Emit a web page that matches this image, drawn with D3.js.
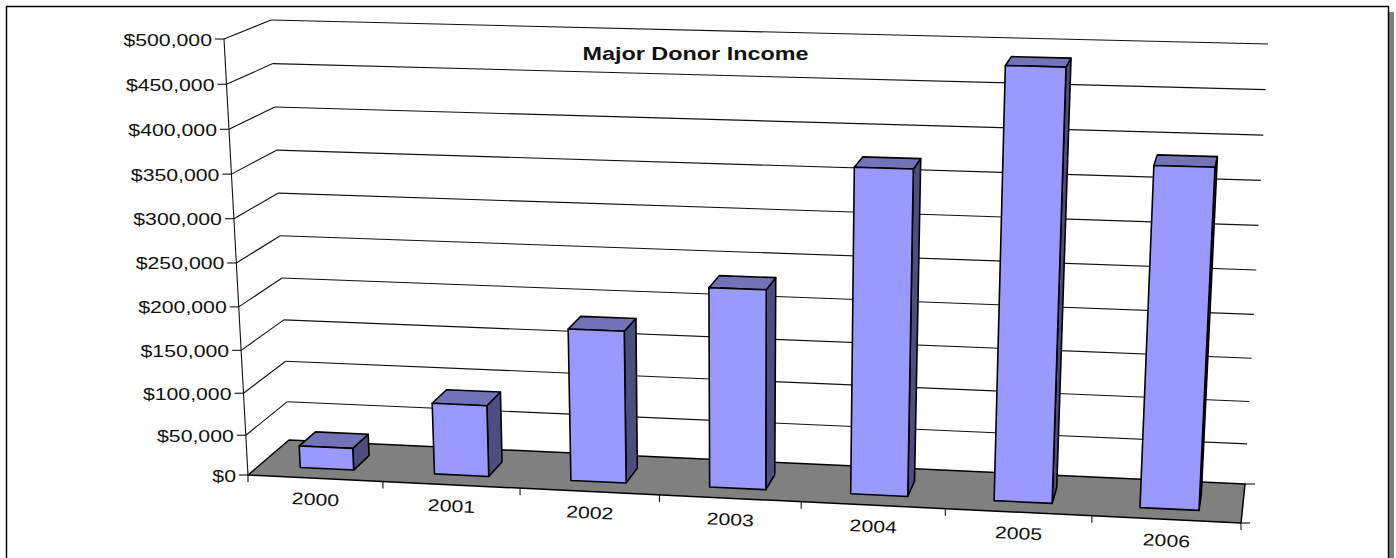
<!DOCTYPE html>
<html>
    <head>
        <title>Major Donor Income</title>
        <script src="https://d3js.org/d3.v7.min.js"></script>
        <style>
            html, body { margin: 0; padding: 0; background: #fff; overflow: hidden; }
            svg { display: block; font-family: "Liberation Sans", sans-serif; }
        </style>
    </head>
    <body>

        <svg id="chart" width="1396" height="558"></svg>

        <script type="text/javascript">

            var title = "Major Donor Income";
            var years = ["2000", "2001", "2002", "2003", "2004", "2005", "2006"];
            var income = [28000, 87000, 180000, 233000, 372000, 487000, 384000];
            var yTicks = [0, 50000, 100000, 150000, 200000, 250000, 300000, 350000, 400000, 450000, 500000];

            var svg = d3.select("#chart");

            // Corners of the 3D box on screen, f = front, b = back, l/r, 0 = floor, 1 = top
            var box = {
                fl0: [248, 475], fl1: [224, 39],
                bl0: [289, 440], bl1: [271, 20],
                fr0: [1241, 523], fr1: [1264, 66],
                br0: [1245, 484], br1: [1268, 44]
            };

            var xBand = d3.scaleBand().domain(years).range([0, 1]);
            var yScale = d3.scalePow().exponent(1.04).domain([0, 500000]).range([0, 1]);
            var money = d3.format("$,");
            var pathLine = d3.line();

            function mix(a, b, t) {
                return [a[0] + (b[0] - a[0]) * t, a[1] + (b[1] - a[1]) * t];
            }

            // t along the years, w into the depth, h up the wall
            function project(t, w, h) {
                var f = t / (1 + 0.06 * (1 - t));
                var floor = mix(mix(box.fl0, box.fr0, f), mix(box.bl0, box.br0, f), w);
                var top = mix(mix(box.fl1, box.fr1, f), mix(box.bl1, box.br1, f), w);
                return mix(floor, top, h);
            }

            function poly(points, fill, width) {
                svg.append("path")
                    .attr("d", pathLine(points) + "Z")
                    .attr("fill", fill)
                    .attr("stroke", "#000")
                    .attr("stroke-width", width)
                    .attr("stroke-linejoin", "round");
            }

            function seg(a, b, width) {
                svg.append("line")
                    .attr("x1", a[0]).attr("y1", a[1])
                    .attr("x2", b[0]).attr("y2", b[1])
                    .attr("stroke", "#111")
                    .attr("stroke-width", width || 1.1);
            }

            // Frame with its drop shadow
            svg.append("rect").attr("x", 12).attr("y", 12).attr("width", 1382).attr("height", 560).attr("fill", "#808080");
            svg.append("rect").attr("x", 6.5).attr("y", 6.5).attr("width", 1382).attr("height", 560)
                .attr("fill", "#fff").attr("stroke", "#000").attr("stroke-width", 1.5);

            // Walls: only the gridlines are drawn
            yTicks.forEach(function(v) {
                var h = yScale(v);
                var front = project(0, 0, h);
                if (v > 0) {
                    seg(front, project(0, 1, h));
                    seg(project(0, 1, h), project(1, 1, h));
                }
                seg([front[0] - 9, front[1]], front);
                svg.append("text")
                    .attr("transform", "translate(" + (front[0] - 12) + "," + (front[1] + 6.5) + ") scale(1.25,1)")
                    .attr("text-anchor", "end")
                    .attr("font-size", 17)
                    .attr("fill", "#111")
                    .text(money(v));
            });
            seg(project(0, 0, 0), project(0, 0, 1));

            // Floor
            poly([project(0, 0, 0), project(0, 1, 0), project(1, 1, 0), project(1, 0, 0)], "#808080", 1.5);
            seg(project(1, 1, 0), [project(1, 1, 0)[0] + 10, project(1, 1, 0)[1]]);
            seg(project(1, 0, 0), [project(1, 0, 0)[0] + 9, project(1, 0, 0)[1]]);

            // Category ticks and labels along the front of the floor
            years.concat([null]).forEach(function(y, i) {
                var t = i / years.length;
                var p = project(t, 0, 0);
                seg(p, [p[0], p[1] + 7]);
            });
            years.forEach(function(y) {
                var p = project(xBand(y) + xBand.step() / 2, 0, 0);
                svg.append("text")
                    .attr("transform", "translate(" + p[0] + "," + (p[1] + 27) + ") rotate(2.8) scale(1.25,1)")
                    .attr("text-anchor", "middle")
                    .attr("font-size", 17)
                    .attr("fill", "#111")
                    .text(y);
            });

            // Bars, left to right
            years.forEach(function(y, i) {
                var t0 = xBand(y) + xBand.step() * 0.31;
                var t1 = xBand(y) + xBand.step() * 0.71;
                var w0 = 0.27, w1 = 0.68;
                var h = yScale(income[i]);
                poly([project(t1, w0, 0), project(t1, w1, 0), project(t1, w1, h), project(t1, w0, h)], "#4d4d80", 1.6);
                poly([project(t0, w0, h), project(t0, w1, h), project(t1, w1, h), project(t1, w0, h)], "#7373b8", 1.6);
                poly([project(t0, w0, 0), project(t1, w0, 0), project(t1, w0, h), project(t0, w0, h)], "#9999ff", 1.6);
            });

            // Title
            svg.append("text")
                .attr("transform", "translate(695.5,59.5) scale(1.3,1)")
                .attr("text-anchor", "middle")
                .attr("font-size", 18)
                .attr("font-weight", "bold")
                .attr("fill", "#111")
                .text(title);

        </script>
    </body>
</html>
